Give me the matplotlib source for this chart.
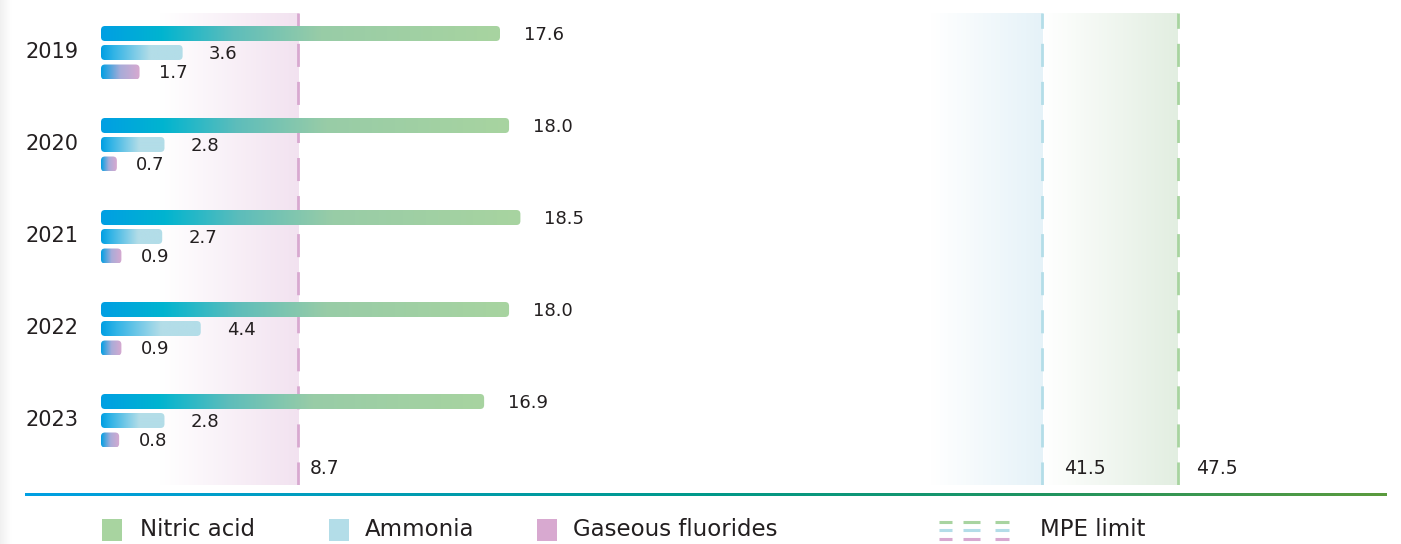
import numpy as np
import matplotlib.pyplot as plt
from matplotlib.patches import FancyBboxPatch, Rectangle
from matplotlib.colors import LinearSegmentedColormap

plt.rcParams['font.family'] = ['DejaVu Sans']

years = ["2019", "2020", "2021", "2022", "2023"]
nitric = [17.6, 18.0, 18.5, 18.0, 16.9]
ammonia = [3.6, 2.8, 2.7, 4.4, 2.8]
fluorides = [1.7, 0.7, 0.9, 0.9, 0.8]
limits = [8.7, 41.5, 47.5]
series_names = ["Nitric acid", "Ammonia", "Gaseous fluorides"]

GREEN = "#a8d4a0"
LBLUE = "#b3dde8"
PINK = "#d8a9d0"
BLUE = "#009fe3"
TXT = "#231f20"

W, H = 1401, 544
fig = plt.figure(figsize=(W / 100, H / 100), dpi=100)

# faint grey edge on the left
eax = fig.add_axes([0, 0, 12 / W, 1])
eax.imshow(np.linspace(0.94, 1.0, 32)[None, :], cmap="gray", vmin=0, vmax=1,
           aspect="auto", interpolation="bilinear")
eax.axis("off")

# main axes: x=0 at px 101, 22.67 px per unit
px_per_unit = 22.67
x0_px, top_px, bot_px = 101, 13, 485
xmax = (W - x0_px) / px_per_unit
ax = fig.add_axes([x0_px / W, (H - bot_px) / H, (W - x0_px) / W, (bot_px - top_px) / H])
grp_px = 92.0
c0 = 52.5
ylims = ((bot_px - c0) / grp_px, (top_px - c0) / grp_px)
ax.axis("off")

aspect = px_per_unit / grp_px
bar_h = 15 / grp_px
offsets = [-19 / grp_px, 0, 19.5 / grp_px]


def grad_img(stops, n=256):
    cmap = LinearSegmentedColormap.from_list("g", stops)
    return cmap(np.linspace(0, 1, n))[None, :, :]


def grad_bar(x, y, stops):
    r = 4 / px_per_unit
    patch = FancyBboxPatch((0, y - bar_h / 2), x, bar_h,
                           boxstyle=f"round,pad=0,rounding_size={min(r, x / 2)}",
                           mutation_aspect=aspect, fc="none", ec="none")
    ax.add_patch(patch)
    im = ax.imshow(grad_img(stops), extent=(0, x, y + bar_h / 2, y - bar_h / 2),
                   aspect="auto", interpolation="bilinear", zorder=3)
    im.set_clip_path(patch)


def shade(x1, x2, color):
    img = grad_img([(0, "#ffffff"), (1, color)])
    ax.imshow(img, extent=(x1, x2, ylims[0], ylims[1]),
              aspect="auto", interpolation="bilinear", zorder=0)


nit_stops = [(0, BLUE), (0.15, "#00b4d0"), (0.33, "#5dbdbb"), (0.55, "#98cca7"), (1, GREEN)]
amm_stops = [(0, BLUE), (0.15, "#30b3e6"), (0.6, LBLUE), (1, LBLUE)]
flu_stops = [(0, BLUE), (0.5, "#a8acd8"), (1, PINK)]

shade(2.6, limits[0], "#f2e2f0")
shade(36.6, limits[1], "#e5f2f8")
shade(limits[1] + 0.1, limits[2], "#e2eee1")
ax.set_xlim(0, xmax)
ax.set_ylim(*ylims)

for lim, col in zip(limits, [PINK, LBLUE, GREEN]):
    ax.axvline(lim, color=col, lw=2, dashes=(8.3, 5.4), zorder=1)

lab_y = (469 - c0) / grp_px
for lim, dx in zip(limits, [0.5, 1.0, 0.8]):
    ax.text(lim + dx, lab_y, f"{lim:.1f}", fontsize=13.5, color=TXT, va="center", ha="left")

for i, yr in enumerate(years):
    grad_bar(nitric[i], i + offsets[0], nit_stops)
    grad_bar(ammonia[i], i + offsets[1], amm_stops)
    grad_bar(fluorides[i], i + offsets[2], flu_stops)
    ax.text(nitric[i] + 1.05, i + offsets[0] + 0.015, f"{nitric[i]:.1f}", fontsize=13, color=TXT, va="center")
    ax.text(ammonia[i] + 1.15, i + offsets[1] + 0.015, f"{ammonia[i]:.1f}", fontsize=13, color=TXT, va="center")
    ax.text(fluorides[i] + 0.85, i + offsets[2] + 0.015, f"{fluorides[i]:.1f}", fontsize=13, color=TXT, va="center")
    ax.text(-1.0, i, yr, fontsize=15, color=TXT, va="center", ha="right")

# gradient baseline
lax = fig.add_axes([25 / W, (H - 496) / H, (1387 - 25) / W, 3 / H])
lax.imshow(grad_img([(0, "#00a0e3"), (0.5, "#00998a"), (0.75, "#1f9460"), (1, "#5b9b3e")]),
           aspect="auto", extent=(0, 1, 0, 1))
lax.axis("off")

# legend
gax = fig.add_axes([0, 0, 1, 1], facecolor="none")
gax.set_xlim(0, W)
gax.set_ylim(H, 0)
gax.axis("off")
leg_y = 530
for xs, xt, col, name in zip([102, 329, 537], [140, 365, 573], [GREEN, LBLUE, PINK], series_names):
    gax.add_patch(Rectangle((xs, leg_y - 11), 20, 22, fc=col, ec="none"))
    gax.text(xt, leg_y, name, fontsize=16.5, color=TXT, va="center")
for row, col in zip([-8.5, 0, 8.5], [GREEN, LBLUE, PINK]):
    for xa, xb in [(939, 952), (963, 980), (995, 1009)]:
        gax.plot([xa, xb], [leg_y + row, leg_y + row], color=col, lw=2.2, solid_capstyle="butt")
gax.text(1040, leg_y, "MPE limit", fontsize=16.5, color=TXT, va="center")

fig.savefig("out.png", dpi=100)
